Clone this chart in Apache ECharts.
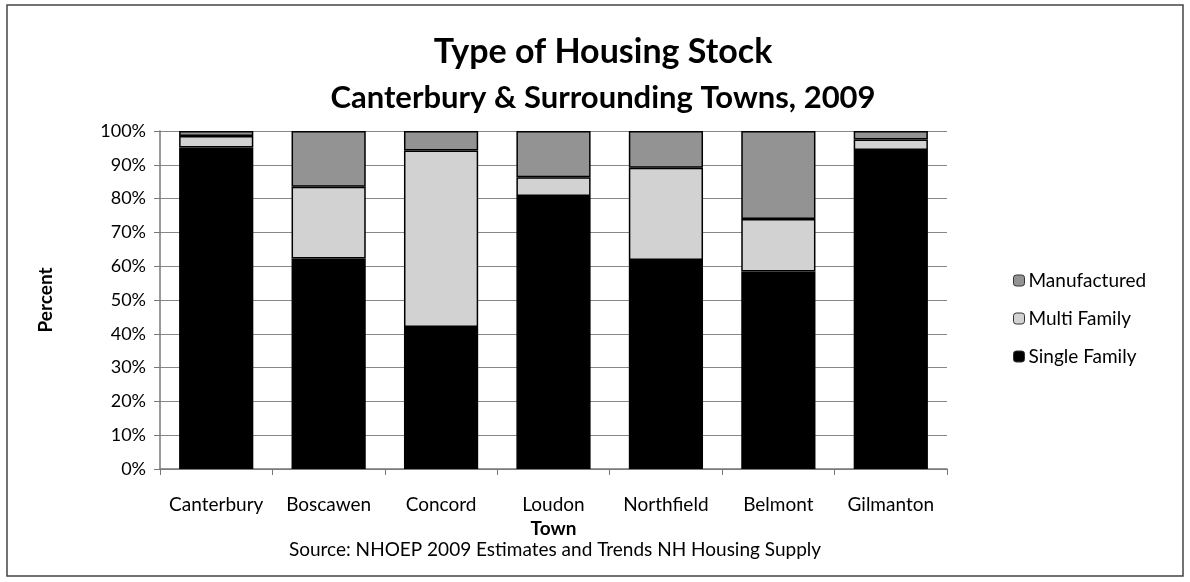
<!DOCTYPE html>
<html>
<head>
<meta charset="utf-8">
<script src="https://cdn.jsdelivr.net/npm/echarts@6/dist/echarts.min.js"></script>
<style>
html,body{margin:0;padding:0;background:#fff;}
#chart{width:1190px;height:582px;}
</style>
</head>
<body>
<div id="chart"></div>
<script>
const towns = ['Canterbury','Boscawen','Concord','Loudon','Northfield','Belmont','Gilmanton'];
const singleFamily = [95.1, 62.3, 42.0, 80.8, 61.8, 58.4, 94.4];
const multiFamily  = [3.4, 21.2, 52.2, 5.5, 27.3, 15.6, 3.1];
const manufactured = [1.5, 16.5, 5.8, 13.7, 10.9, 26.0, 2.5];
const yTicks = [0,10,20,30,40,50,60,70,80,90,100];

const FONT = 'Lato';
const chart = echarts.init(document.getElementById('chart'));
function bar(name, data, color){
  return {type:'bar', name:name, data:data, stack:'total', barCategoryGap:'34%',
    itemStyle:{color:color, borderColor:'#000', borderWidth:1.5}};
}
chart.setOption({
  animation:false,
  textStyle:{fontFamily:FONT},
  graphic:[{type:'rect', shape:{x:7,y:5,width:1176,height:571},
    style:{fill:'none', stroke:'#444', lineWidth:1.5}, silent:true},
    {type:'text', x:555, y:540,
     style:{text:'Source: NHOEP 2009 Estimates and Trends NH Housing Supply', align:'center',
       fontFamily:FONT, fontSize:19, fill:'#000'}}],
  title:[
    {text:'Type of Housing Stock', left:598, top:30, textAlign:'center',
     textStyle:{fontFamily:FONT, fontSize:34, fontWeight:'bold', color:'#000'}},
    {text:'Canterbury & Surrounding Towns, 2009', left:598, top:77, textAlign:'center',
     textStyle:{fontFamily:FONT, fontSize:31, fontWeight:'bold', color:'#000'}}
  ],
  legend:{orient:'vertical', left:1008, top:266, itemGap:19, itemWidth:11, itemHeight:11,
    data:['Manufactured','Multi Family','Single Family'],
    textStyle:{fontFamily:FONT, fontSize:19, color:'#000', padding:[0,0,0,-1]},
    itemStyle:{borderColor:'#333', borderWidth:1}},
  grid:{left:160, right:243, top:131, bottom:113, containLabel:false},
  xAxis:{type:'category', data:towns, name:'Town', nameLocation:'middle', nameGap:36,
    nameTextStyle:{fontFamily:FONT, fontSize:19, fontWeight:'bold', color:'#000'},
    axisLine:{lineStyle:{color:'#777', width:1.5}},
    axisTick:{show:true, length:6, lineStyle:{color:'#777'}},
    axisLabel:{fontFamily:FONT, fontSize:19, color:'#000', margin:26, interval:0, hideOverlap:false}},
  yAxis:{type:'value', min:0, max:100, interval:10, name:'Percent', nameLocation:'middle', nameGap:105,
    nameTextStyle:{fontFamily:FONT, fontSize:19, fontWeight:'bold', color:'#000'},
    axisLine:{show:true, lineStyle:{color:'#777', width:1.5}},
    axisTick:{show:true, length:6, lineStyle:{color:'#777'}},
    splitLine:{lineStyle:{color:'#888', width:1.2}},
    axisLabel:{fontFamily:FONT, fontSize:18, color:'#000', margin:14,
      formatter: v => yTicks.includes(v) ? v + '%' : ''}},
  series:[
    bar('Single Family', singleFamily, '#000'),
    bar('Multi Family', multiFamily, '#d2d2d2'),
    bar('Manufactured', manufactured, '#939393')
  ]
});
</script>
</body>
</html>
